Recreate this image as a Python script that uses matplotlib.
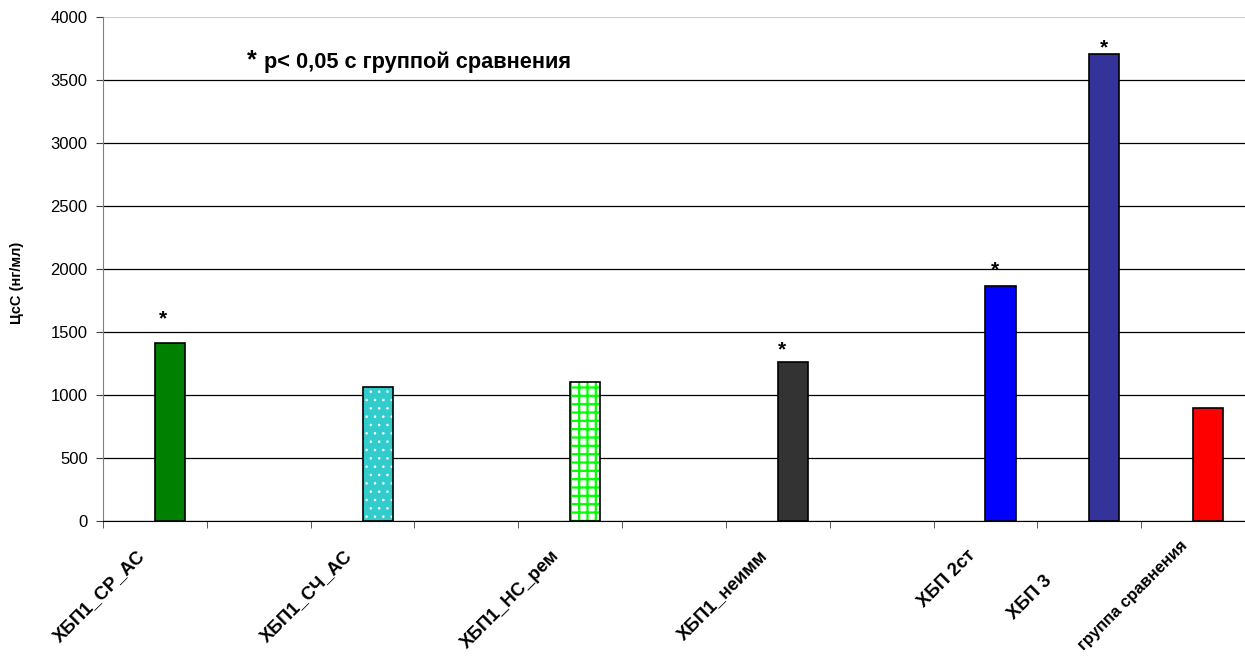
import numpy as np
import matplotlib
matplotlib.use("Agg")
import matplotlib.pyplot as plt
import matplotlib.transforms as mtransforms

plt.rcParams['font.family'] = ['Liberation Sans', 'DejaVu Sans']

# ---- data ----
categories = ['ХБП1_СР_АС', '', 'ХБП1_СЧ_АС', '', 'ХБП1_НС_рем', '', 'ХБП1_неимм', '',
              'ХБП 2ст', 'ХБП 3', 'группа сравнения']
values = [1410, np.nan, 1066, np.nan, 1106, np.nan, 1262, np.nan, 1865, 3706, 897]
significant = [True, False, False, False, False, False, True, False, True, True, False]
y_ticks = [0, 500, 1000, 1500, 2000, 2500, 3000, 3500, 4000]

# ---- styles ----
colors = ['#008000', None, '#33CCCC', None, '#FFFFFF', None, '#333333', None, '#0000FF', '#333399', '#FF0000']
hatches = [None, None, '..', None, '++', None, None, None, None, None, None]
hatch_colors = [None, None, 'white', None, '#00FF00', None, None, None, None, None, None]
hatch_widths = [None, None, 0.6, None, 1.6, None, None, None, None, None, None]
star_offsets = [(-5, 13.7), None, None, None, None, None, (-8, 5), None, (-4, 7.4), (0, 0.6), None]

fig = plt.figure(figsize=(12.45, 6.6), dpi=100)
ax = fig.add_axes([103/1245, (660-521)/660, (1245-103)/1245, (521-17)/660])

x = np.arange(len(categories))
width = 0.29
for i, v in enumerate(values):
    if np.isnan(v):
        continue
    if hatches[i]:
        plt.rcParams['hatch.linewidth'] = hatch_widths[i]
        ax.bar(x[i], v, width=width, align='edge', color=colors[i], hatch=hatches[i],
               edgecolor=hatch_colors[i], linewidth=0, zorder=3)
        ax.bar(x[i], v, width=width, align='edge', fill=False, edgecolor='black',
               linewidth=1.2, zorder=4)
    else:
        ax.bar(x[i], v, width=width, align='edge', color=colors[i], edgecolor='black',
               linewidth=1.2, zorder=3)
    if significant[i]:
        dx, dy = star_offsets[i]
        ax.annotate('*', xy=(x[i] + width / 2, v), xytext=(dx, dy), textcoords='offset points',
                    ha='center', va='baseline', fontsize=15, fontweight='bold', zorder=5)

ax.set_xlim(-0.5, len(categories) - 0.5)
ax.set_ylim(0, 4000)
ax.set_yticks(y_ticks)
ax.set_yticklabels([str(t) for t in y_ticks], fontsize=12)
ax.yaxis.grid(True, color='black', linewidth=0.9)
ax.get_ygridlines()[-1].set_color('#d0d0d0')
ax.set_axisbelow(True)

ax.set_xticks(x + 0.0)
ax.set_xticks(np.arange(-0.5, len(categories)), minor=True)
ax.tick_params(axis='x', which='major', length=0, pad=23)
ax.tick_params(axis='x', which='minor', length=5, color='#404040')
ax.tick_params(axis='y', length=5, color='#404040', pad=6)
ax.set_xticklabels(categories, rotation=45, ha='right', va='center', rotation_mode='anchor',
                   fontsize=13.3, fontweight='bold')
for lbl in ax.get_xticklabels():
    shift = mtransforms.ScaledTranslation(-0.13, 0, fig.dpi_scale_trans)
    if lbl.get_text() == 'ХБП 3':
        shift = mtransforms.ScaledTranslation(-0.40, -0.25, fig.dpi_scale_trans)
    if lbl.get_text() == 'группа сравнения':
        lbl.set_fontsize(12)
        shift = mtransforms.ScaledTranslation(-0.08, 0.10, fig.dpi_scale_trans)
    lbl.set_transform(lbl.get_transform() + shift)

for s in ['top', 'right']:
    ax.spines[s].set_visible(False)
ax.spines['left'].set_color('#808080')
ax.spines['bottom'].set_color('black')

fig.text(17/1245, 1 - 283/660, 'ЦсС (нг/мл)', rotation=90, ha='center', va='center',
         fontsize=10.5, fontweight='bold')

ax.text(247/1245, 1 - 60/660, '*', transform=fig.transFigure, fontsize=18, fontweight='bold',
        ha='left', va='center')
ax.text(258/1245, 1 - 62/660, ' p< 0,05 с группой сравнения', transform=fig.transFigure,
        fontsize=15.7, fontweight='bold', ha='left', va='center')

fig.savefig('out.png', dpi=100)
